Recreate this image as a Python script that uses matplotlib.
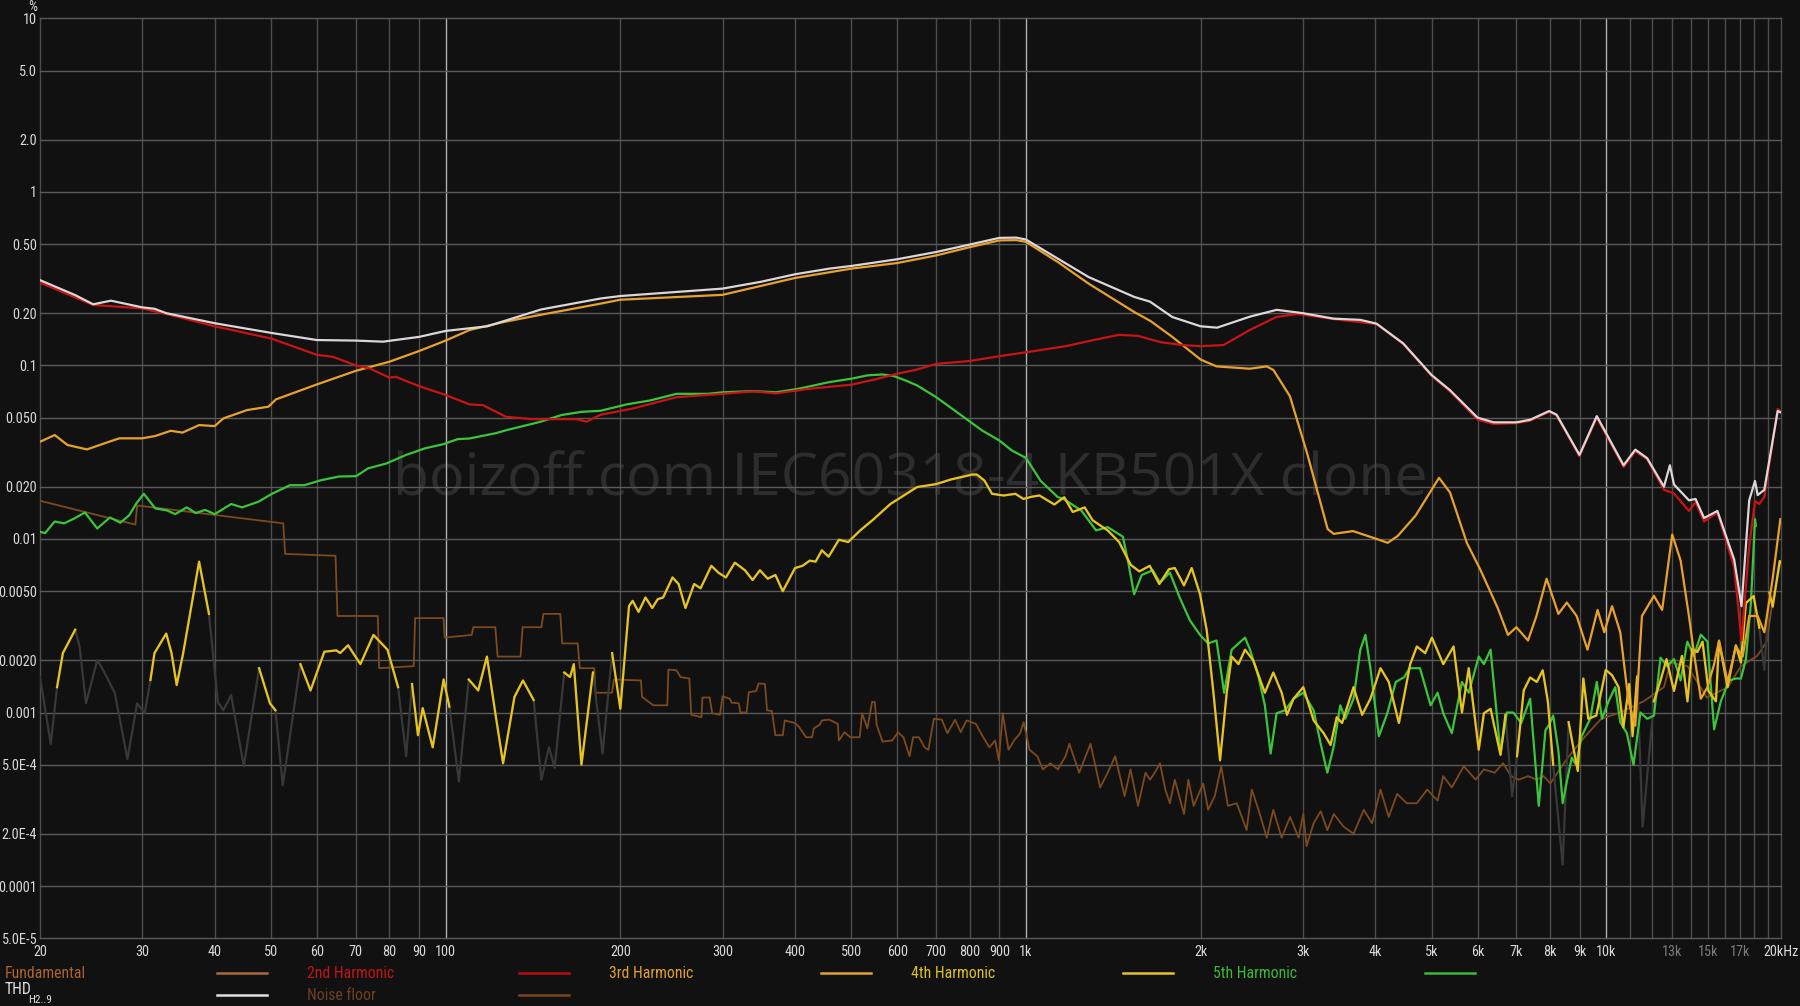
import numpy as np
import matplotlib.pyplot as plt
from matplotlib.lines import Line2D
from matplotlib import font_manager as fm

# ---- data: (frequency Hz, distortion %) ----
thd = np.array([
    (20, 0.31), (23.0, 0.254), (24.7, 0.225), (26.5, 0.236), (30, 0.216), (31.5, 0.212),
    (33, 0.200), (40, 0.175), (50, 0.154), (60, 0.140), (70, 0.139), (78, 0.137),
    (90, 0.146), (100, 0.158), (118, 0.168), (146, 0.21), (185, 0.243), (200, 0.251),
    (250, 0.265), (300, 0.277), (349, 0.303), (400, 0.335), (458, 0.361), (500, 0.374),
    (600, 0.409), (700, 0.45), (800, 0.497), (900, 0.543), (962, 0.545), (1000, 0.531),
    (1135, 0.412), (1282, 0.323), (1537, 0.248), (1636, 0.233), (1787, 0.19), (2000, 0.168),
    (2135, 0.165), (2432, 0.191), (2704, 0.209), (3000, 0.200), (3387, 0.186), (3768, 0.183),
    (4019, 0.174), (4466, 0.134), (5000, 0.088), (5378, 0.072), (6000, 0.050), (6394, 0.047),
    (7000, 0.047), (7390, 0.0486), (7970, 0.0546), (8210, 0.052), (8990, 0.0305), (9630, 0.051),
    (10710, 0.0266), (11220, 0.0327), (11760, 0.0292), (12570, 0.020), (12870, 0.0266),
    (13080, 0.0206), (13880, 0.0167), (14250, 0.017), (14740, 0.0132), (15540, 0.0145),
    (16610, 0.0076), (17100, 0.0041), (17630, 0.0167), (18040, 0.0216), (18230, 0.0179),
    (18720, 0.0192), (19740, 0.0546), (20000, 0.0535)])

h2 = np.array([
    (20, 0.30), (24.7, 0.223), (30, 0.213), (33, 0.198), (40, 0.168), (50, 0.143), (60, 0.115),
    (64, 0.112), (70, 0.100), (74, 0.096), (80, 0.085), (82, 0.086), (90, 0.076), (100, 0.0675),
    (110, 0.0596), (116, 0.059), (127, 0.0506), (141, 0.049), (154, 0.049), (168, 0.049),
    (175, 0.0474), (185, 0.052), (209, 0.0562), (250, 0.0656), (300, 0.0686), (339, 0.0708),
    (371, 0.069), (424, 0.0734), (500, 0.0774), (549, 0.083), (600, 0.0895), (650, 0.0948),
    (700, 0.102), (800, 0.106), (900, 0.113), (1000, 0.119), (1170, 0.129), (1321, 0.141),
    (1446, 0.15), (1560, 0.148), (1707, 0.136), (1860, 0.131), (2000, 0.129), (2190, 0.131),
    (2430, 0.16), (2700, 0.19), (2930, 0.198), (3000, 0.196), (3390, 0.185), (4020, 0.173),
    (4466, 0.133), (5000, 0.087), (5378, 0.071), (6000, 0.0487), (6394, 0.046), (7000, 0.0465),
    (7390, 0.048), (7970, 0.054), (8210, 0.0515), (8990, 0.030), (9630, 0.050), (10710, 0.026),
    (11220, 0.032), (11760, 0.0288), (12570, 0.0192), (13080, 0.0183), (13880, 0.0145),
    (14250, 0.0163), (14740, 0.0126), (15540, 0.0142), (16610, 0.0069), (17100, 0.0026),
    (17630, 0.0091), (18040, 0.0165), (18350, 0.0159), (18720, 0.0175), (19740, 0.056),
    (20000, 0.054)])

h3 = np.array([
    (20, 0.0363), (21.2, 0.0397), (22.3, 0.0348), (24.1, 0.0328), (26.3, 0.0363), (27.4, 0.038),
    (30, 0.038), (31.6, 0.0392), (33.6, 0.042), (35.2, 0.041), (37.6, 0.0453), (40, 0.0447),
    (41.4, 0.0495), (45.5, 0.0553), (49.5, 0.0578), (51, 0.0637), (60, 0.0777), (70, 0.093),
    (80, 0.105), (90, 0.121), (100, 0.139), (110, 0.16), (126, 0.178), (145, 0.195),
    (185, 0.227), (200, 0.239), (300, 0.255), (400, 0.319), (500, 0.361), (600, 0.389),
    (700, 0.43), (800, 0.48), (900, 0.525), (962, 0.527), (1000, 0.515), (1135, 0.394),
    (1282, 0.296), (1537, 0.203), (1640, 0.18), (1787, 0.146), (2000, 0.108), (2130, 0.0987),
    (2430, 0.0957), (2600, 0.0987), (2670, 0.094), (2850, 0.0664), (3050, 0.0313),
    (3310, 0.0114), (3390, 0.0107), (3660, 0.0111), (4020, 0.010), (4200, 0.0095),
    (4370, 0.0104), (4690, 0.0136), (5150, 0.0225), (5380, 0.0185), (5750, 0.0095),
    (6060, 0.0067), (6500, 0.0040), (6770, 0.0028), (7000, 0.0031), (7330, 0.0026),
    (7580, 0.0036), (7890, 0.0059), (8270, 0.0037), (8550, 0.0043), (8890, 0.0036),
    (9280, 0.0023), (9660, 0.0039), (9920, 0.0029), (10230, 0.0041), (10570, 0.0029),
    (10920, 0.00116), (11220, 0.00084), (11520, 0.0036), (12080, 0.0047), (12480, 0.0039),
    (12990, 0.0106), (13430, 0.0075), (13880, 0.0036), (14160, 0.0022), (14550, 0.0012),
    (14940, 0.0014), (15340, 0.0019), (15640, 0.0026), (16180, 0.0015), (16720, 0.0024),
    (17180, 0.0021), (17630, 0.0036), (18230, 0.0036), (18720, 0.0029), (19350, 0.0059),
    (19950, 0.013)])

h4 = np.array([
    (20, 0.0016), (20.87, 0.00066), (21.4, 0.0014), (21.9, 0.0022), (23.0, 0.0030), (23.4, 0.0024),
    (24.0, 0.00113), (25.1, 0.0020), (25.6, 0.0018), (26.9, 0.0013), (28.3, 0.00054),
    (29.4, 0.00113), (30.3, 0.00099), (31.0, 0.00154), (31.5, 0.0022), (33.0, 0.00285),
    (33.7, 0.0022), (34.4, 0.00144), (35.3, 0.0022), (37.6, 0.0074), (39.1, 0.0037),
    (40.5, 0.00115), (41.4, 0.00103), (42.7, 0.00126), (44.9, 0.00049), (47.7, 0.0018),
    (49.8, 0.00113), (50.9, 0.00103), (52.4, 0.00038), (56.2, 0.0019), (58.5, 0.00134),
    (61.8, 0.00224), (64.8, 0.00228), (65.8, 0.0022), (67.9, 0.00244), (71.3, 0.0019),
    (75.1, 0.0028), (79.4, 0.0023), (82.8, 0.0014), (85.5, 0.00056), (87.5, 0.00146),
    (89.6, 0.00074), (91.3, 0.00106), (95.0, 0.00063), (99.2, 0.00155), (101.5, 0.00108),
    (105.4, 0.0004), (109.6, 0.00155), (113.8, 0.00134), (117.8, 0.0021), (121.8, 0.00099),
    (125.6, 0.00051), (131.4, 0.00123), (135.9, 0.00153), (141.8, 0.00118), (146.2, 0.00041),
    (150.7, 0.00063), (154.1, 0.00048), (160.1, 0.0017), (163.8, 0.0016), (166.3, 0.0019),
    (171.4, 0.0005), (179.4, 0.0017), (186.4, 0.00058), (193.6, 0.0022), (200, 0.00105),
    (207, 0.0041), (210, 0.0044), (215, 0.0038), (221, 0.0046), (227, 0.0040), (232, 0.0045),
    (237, 0.0046), (246, 0.0060), (252, 0.0055), (259, 0.0040), (268, 0.0055), (275, 0.0052),
    (287, 0.0070), (295, 0.0064), (304, 0.0060), (315, 0.0073), (328, 0.0066), (338, 0.0058),
    (348, 0.0066), (359, 0.0059), (370, 0.0062), (381, 0.0050), (400, 0.0068), (412, 0.0070),
    (424, 0.0075), (434, 0.0074), (445, 0.0086), (457, 0.0079), (476, 0.0099), (494, 0.0096),
    (518, 0.0112), (545, 0.0129), (584, 0.0159), (649, 0.0199), (700, 0.0207), (742, 0.022),
    (808, 0.0235), (823, 0.0235), (848, 0.0217), (874, 0.0182), (915, 0.0178), (959, 0.0182),
    (990, 0.017), (1022, 0.0175), (1055, 0.0178), (1119, 0.0158), (1164, 0.0174),
    (1204, 0.0143), (1262, 0.0152), (1303, 0.0128), (1383, 0.0112), (1447, 0.0096),
    (1515, 0.0071), (1568, 0.0065), (1634, 0.0070), (1697, 0.0055), (1764, 0.0067),
    (1805, 0.0068), (1872, 0.0054), (1930, 0.0068), (1995, 0.0048), (2048, 0.0030),
    (2104, 0.0013), (2160, 0.00053), (2218, 0.0013), (2262, 0.0021), (2324, 0.0019),
    (2385, 0.0023), (2463, 0.0020), (2580, 0.0013), (2668, 0.0017), (2758, 0.0013),
    (2817, 0.00097), (2891, 0.0012), (3005, 0.0014), (3131, 0.0009), (3258, 0.00076),
    (3349, 0.00065), (3432, 0.00094), (3505, 0.00087), (3668, 0.0014), (3795, 0.00097),
    (3922, 0.0012), (4082, 0.0018), (4218, 0.0015), (4392, 0.00087), (4593, 0.0019),
    (4715, 0.0024), (4874, 0.0022), (5006, 0.0027), (5237, 0.0019), (5455, 0.0024),
    (5640, 0.0010), (5794, 0.0018), (6028, 0.00061), (6153, 0.00099), (6318, 0.00105),
    (6572, 0.00057), (6702, 0.00097), (6881, 0.00033), (7018, 0.00056), (7206, 0.00134),
    (7392, 0.00159), (7590, 0.0015), (7770, 0.00175), (7930, 0.00116), (8100, 0.0005),
    (8410, 0.000133), (8610, 0.00088), (8930, 0.00046), (9130, 0.00157), (9310, 0.00092),
    (9610, 0.00096), (9980, 0.00176), (10230, 0.00164), (10500, 0.0014), (10700, 0.00082),
    (10950, 0.00146), (11100, 0.00073), (11300, 0.00161), (11550, 0.00022), (12080, 0.00116),
    (12400, 0.00153), (12700, 0.00203), (13080, 0.00133), (13500, 0.00212), (13800, 0.00116),
    (14060, 0.00233), (14350, 0.00223), (14650, 0.00256), (15000, 0.00133), (15450, 0.00116),
    (15640, 0.00256), (16180, 0.0014), (16720, 0.00244), (17060, 0.00194), (17400, 0.00427),
    (17940, 0.00469), (18350, 0.00308), (18720, 0.00176), (19100, 0.00491), (19350, 0.00407),
    (19900, 0.00746), (20000, 0.0073)])

# frequency spans where the 4th harmonic trace is drawn greyed out
h4_grey = [(20, 21.2), (23.3, 24.6), (25.5, 30.5), (40.2, 42.0), (44.0, 46.0), (51.5, 53.5),
           (85.0, 86.5), (104.5, 107.0), (145.0, 155.0), (185.0, 188.0), (6800, 6950),
           (8300, 8500), (11400, 11700), (18600, 18800)]

h5 = np.array([
    (20, 0.011), (20.4, 0.0108), (21.2, 0.0126), (22.0, 0.0123), (22.9, 0.0131), (23.9, 0.0142),
    (25.1, 0.0115), (26.4, 0.0133), (27.5, 0.0124), (28.5, 0.0137), (29.3, 0.016), (30.2, 0.0182),
    (31.6, 0.015), (33.1, 0.0146), (34.2, 0.0139), (35.8, 0.0152), (37.1, 0.0141), (38.5, 0.0147),
    (40.0, 0.0139), (42.7, 0.0159), (44.6, 0.0152), (47.6, 0.0164), (50.2, 0.0182),
    (53.9, 0.0204), (57.1, 0.0204), (61.0, 0.0218), (65.5, 0.0229), (70.1, 0.023),
    (73.5, 0.0255), (79.0, 0.0272), (85.5, 0.0305), (92.2, 0.0333), (99.2, 0.0352),
    (104.9, 0.0376), (109.8, 0.0379), (121.7, 0.0406), (127.5, 0.0424), (145.9, 0.0474),
    (158.4, 0.0518), (171.5, 0.054), (185, 0.0548), (205, 0.0596), (225, 0.0628), (250, 0.0686),
    (283, 0.0686), (300, 0.070), (339, 0.0711), (371, 0.070), (406, 0.0734), (458, 0.0801),
    (500, 0.0838), (533, 0.0876), (566, 0.0887), (592, 0.0868), (620, 0.0819), (649, 0.0767),
    (700, 0.0657), (767, 0.0526), (840, 0.0422), (900, 0.0369), (946, 0.0323), (1000, 0.0293),
    (1060, 0.0216), (1135, 0.0174), (1158, 0.0171), (1245, 0.0146), (1321, 0.0112),
    (1383, 0.0117), (1469, 0.0103), (1502, 0.0072), (1536, 0.0048), (1583, 0.0062),
    (1654, 0.0066), (1702, 0.0056), (1770, 0.0064), (1840, 0.0046), (1916, 0.0034),
    (1995, 0.0028), (2060, 0.0025), (2130, 0.0026), (2195, 0.0013), (2262, 0.0023),
    (2324, 0.0025), (2385, 0.0027), (2433, 0.0023), (2516, 0.0016), (2580, 0.0011),
    (2640, 0.00058), (2703, 0.00099), (2795, 0.00103), (2891, 0.0012), (3005, 0.0013),
    (3131, 0.00103), (3220, 0.00066), (3306, 0.00045), (3392, 0.00064), (3480, 0.0011),
    (3550, 0.00092), (3668, 0.0012), (3768, 0.0023), (3845, 0.0028), (3922, 0.0018),
    (4056, 0.00073), (4194, 0.00099), (4338, 0.0015), (4486, 0.0016), (4580, 0.0018),
    (4775, 0.0018), (4980, 0.0011), (5120, 0.0013), (5237, 0.00099), (5418, 0.00076),
    (5640, 0.0015), (5794, 0.0013), (6028, 0.0021), (6153, 0.0019), (6318, 0.0023),
    (6572, 0.00058), (6740, 0.001), (6916, 0.001), (7135, 0.00087), (7392, 0.0012),
    (7650, 0.00029), (7855, 0.00079), (7970, 0.00085), (8100, 0.00096), (8270, 0.0006),
    (8410, 0.0003), (8550, 0.0004), (8720, 0.00055), (8870, 0.0005), (9070, 0.00073),
    (9380, 0.00092), (9630, 0.0015), (9830, 0.00092), (10090, 0.00116), (10360, 0.0014),
    (10570, 0.00088), (10850, 0.00076), (11140, 0.0005), (11450, 0.001), (11760, 0.00092),
    (12080, 0.00096), (12400, 0.00207), (12730, 0.00185), (13080, 0.00203), (13430, 0.00153),
    (13790, 0.00256), (14160, 0.00212), (14550, 0.00281), (14940, 0.00256), (15340, 0.0008),
    (15750, 0.00116), (16280, 0.00153), (16720, 0.00157), (17060, 0.00157), (17400, 0.00203),
    (17750, 0.00427), (18040, 0.013), (18100, 0.0119)])

noise = np.array([
    (20, 0.0166), (29.2, 0.0121), (29.4, 0.0156), (52.5, 0.0123), (52.9, 0.0082), (64.6, 0.0080),
    (65.1, 0.0036), (76.4, 0.0036), (76.8, 0.0018), (88.1, 0.00185), (88.6, 0.0035),
    (99.2, 0.0035), (99.6, 0.0027), (110.9, 0.0028), (111.6, 0.0031), (121.8, 0.0031),
    (122.9, 0.0021), (134.6, 0.0021), (135.7, 0.0031), (146.2, 0.0031), (147.4, 0.0037),
    (157.6, 0.0037), (158.8, 0.0025), (168.9, 0.0025), (170.3, 0.0018), (180.3, 0.0018),
    (181.3, 0.0013), (193.5, 0.0013), (195, 0.00155), (217, 0.00153), (218, 0.00123),
    (228, 0.0011), (241, 0.0011), (242, 0.00177), (250, 0.00175), (254, 0.0016), (263, 0.00157),
    (265, 0.00097), (276, 0.00094), (277, 0.00122), (285, 0.00122), (288, 0.00099),
    (297, 0.00097), (300, 0.00124), (309, 0.0012), (311, 0.00114), (320, 0.00113), (322, 0.0010),
    (330, 0.0010), (333, 0.00131), (343, 0.00133), (346, 0.00147), (355, 0.00146),
    (358, 0.00103), (365, 0.00102), (370, 0.00074), (381, 0.00074), (384, 0.0009),
    (400, 0.00087), (406, 0.00083), (418, 0.00072), (428, 0.00072), (431, 0.00081),
    (441, 0.00085), (445, 0.0009), (458, 0.00091), (474, 0.00086), (476, 0.00069),
    (487, 0.00077), (498, 0.00072), (517, 0.00072), (522, 0.00099), (533, 0.00081),
    (543, 0.00115), (549, 0.00115), (553, 0.00085), (566, 0.00068), (588, 0.00069),
    (602, 0.00077), (615, 0.00072), (630, 0.00056), (639, 0.00072), (654, 0.00072),
    (669, 0.00063), (679, 0.00061), (694, 0.00092), (716, 0.00091), (732, 0.00076),
    (755, 0.00091), (772, 0.00077), (790, 0.0009), (820, 0.00086), (840, 0.00074),
    (865, 0.00063), (885, 0.00069), (898, 0.00053), (912, 0.00099), (933, 0.00061),
    (954, 0.00069), (977, 0.00076), (991, 0.00088), (1014, 0.00061), (1046, 0.00056),
    (1069, 0.00047), (1102, 0.00051), (1135, 0.00047), (1170, 0.00056), (1188, 0.00066),
    (1235, 0.00045), (1292, 0.00066), (1342, 0.00037), (1383, 0.00045), (1425, 0.00056),
    (1479, 0.00033), (1514, 0.00047), (1560, 0.00029), (1607, 0.00045), (1636, 0.00041),
    (1667, 0.00045), (1702, 0.00051), (1738, 0.00036), (1770, 0.0003), (1805, 0.00041),
    (1872, 0.00026), (1905, 0.00041), (1945, 0.00029), (2020, 0.00039), (2060, 0.000275),
    (2115, 0.00033), (2170, 0.00049), (2228, 0.00029), (2308, 0.0003), (2400, 0.00021),
    (2450, 0.00036), (2516, 0.000275), (2600, 0.00019), (2668, 0.000275), (2758, 0.00019),
    (2852, 0.00025), (2950, 0.00019), (3005, 0.00026), (3045, 0.00017), (3131, 0.00023),
    (3220, 0.00027), (3306, 0.00021), (3392, 0.00026), (3526, 0.00022), (3668, 0.0002),
    (3820, 0.000275), (3948, 0.00023), (4082, 0.00036), (4218, 0.00025), (4360, 0.00034),
    (4530, 0.0003), (4715, 0.0003), (4915, 0.00036), (5120, 0.00031), (5237, 0.00043),
    (5418, 0.00037), (5680, 0.00049), (5955, 0.00041), (6153, 0.00047), (6420, 0.00045),
    (6640, 0.00051), (6855, 0.00043), (7065, 0.00041), (7330, 0.00043), (7590, 0.00041),
    (7800, 0.00043), (8006, 0.00039), (8550, 0.00054), (9200, 0.00073), (9800, 0.00092),
    (10570, 0.001), (11600, 0.00116), (12570, 0.0014), (12900, 0.00194), (13800, 0.00185),
    (14900, 0.00122), (16200, 0.0014), (17060, 0.00185), (18200, 0.00212), (18900, 0.00256),
    (19400, 0.00469), (20000, 0.00746)])

# axis ticks
x_ticks = [20, 30, 40, 50, 60, 70, 80, 90, 100, 200, 300, 400, 500, 600, 700, 800, 900,
           1000, 2000, 3000, 4000, 5000, 6000, 7000, 8000, 9000, 10000,
           11000, 12000, 13000, 14000, 15000, 16000, 17000, 18000, 19000, 20000]
x_labels = ['20', '30', '40', '50', '60', '70', '80', '90', '100', '200', '300', '400', '500',
            '600', '700', '800', '900', '1k', '2k', '3k', '4k', '5k', '6k', '7k', '8k', '9k',
            '10k', '', '', '13k', '', '15k', '', '17k', '', '', '20kHz']
y_ticks = [5e-5, 1e-4, 2e-4, 5e-4, 1e-3, 2e-3, 5e-3, 0.01, 0.02, 0.05, 0.1, 0.2, 0.5, 1, 2, 5, 10]
y_labels = ['5.0E-5', '0.0001', '2.0E-4', '5.0E-4', '0.001', '0.0020', '0.0050', '0.01',
            '0.020', '0.050', '0.1', '0.20', '0.50', '1', '2.0', '5.0', '10']

BG = '#111111'

# pick a condensed face for the small labels if one is installed, else a plain narrow-ish sans
label_font = None
for entry in fm.fontManager.ttflist:
    if entry.stretch in ('condensed', 'semi-condensed') and entry.style == 'normal' \
            and entry.weight in (400, 'normal', 'regular') \
            and entry.name in ('Liberation Sans Narrow', 'Noto Sans', 'Open Sans', 'Roboto',
                               'Roboto Condensed', 'Inter'):
        label_font = fm.FontProperties(fname=entry.fname)
        break
if label_font is None:
    label_font = fm.FontProperties(family=['Roboto', 'DejaVu Sans'])
    LABEL_SIZE = 8.3
else:
    LABEL_SIZE = 10.3
label_font.set_size(LABEL_SIZE)

fig = plt.figure(figsize=(18, 10.06), dpi=100, facecolor=BG)
ax = fig.add_axes([40 / 1800, 67.7 / 1006, 1741 / 1800, 920 / 1006])
ax.set_facecolor(BG)
ax.set_xscale('log')
ax.set_yscale('log')
ax.set_xlim(20, 20000)
ax.set_ylim(5e-5, 10)

ax.set_xticks(x_ticks)
ax.set_xticklabels(x_labels)
ax.set_yticks(y_ticks)
ax.set_yticklabels(y_labels)
ax.minorticks_off()
ax.tick_params(axis='both', length=0, colors='#d8d8d8')
ax.tick_params(axis='x', pad=5)
ax.tick_params(axis='y', pad=2)
for lab in ax.get_xticklabels() + ax.get_yticklabels():
    lab.set_fontproperties(label_font)
for lab in ax.get_xticklabels():
    if lab.get_text() in ('13k', '15k', '17k'):
        lab.set_color('#7a7a7a')

ax.grid(True, color='#4c4c4c', linewidth=1.0)
for f, gl in zip(x_ticks, ax.get_xgridlines()):
    gl.set_clip_on(False)
    if f in (100, 1000, 10000):
        gl.set_color('#b0b0b0')
for gl in ax.get_ygridlines():
    gl.set_clip_on(False)
    gl.set_color('#5a5a5a')
for s in ax.spines.values():
    s.set_visible(False)

# watermark
ax.text(0.5056, 0.523, 'boizoff.com IEC60318-4 KB501X clone', transform=fig.transFigure,
        ha='center', va='center', fontsize=42.5, color='#2d2d2d',
        family=['Open Sans', 'DejaVu Sans'], zorder=1)

# traces
ax.plot(noise[:, 0], noise[:, 1], color='#7c4a1e', lw=1.3, zorder=2)
ax.plot(h4[:, 0], h4[:, 1], color='#383838', lw=1.6, zorder=2.5)
h4_col = h4[:, 1].copy()
for lo, hi in h4_grey:
    h4_col[(h4[:, 0] >= lo) & (h4[:, 0] <= hi)] = np.nan
ax.plot(h4[:, 0], h4_col, color='#e8c41e', lw=1.6, zorder=3.2)
ax.plot(h5[:, 0], h5[:, 1], color='#3cc43c', lw=1.6, zorder=3.0)
ax.plot(h3[:, 0], h3[:, 1], color='#e8a22c', lw=1.6, zorder=3.4)
ax.plot(h2[:, 0], h2[:, 1], color='#c81414', lw=1.6, zorder=3.6)
ax.plot(thd[:, 0], thd[:, 1], color='#dcd6d8', lw=1.6, zorder=3.8)

# unit label
fig.text(33 / 1800, 1 - 7 / 1006, '%', ha='center', va='center', color='#d8d8d8',
         fontproperties=label_font)

# legend, drawn by hand in two rows like the original
row1 = 1 - 973 / 1006
row2 = 1 - 995 / 1006
leg_font = label_font.copy()
leg_font.set_size(LABEL_SIZE + 1.0)
sub_font = label_font.copy()
sub_font.set_size(LABEL_SIZE - 2.3)
entries = [
    ('Fundamental', '#a9642f', '#a8683e', 0, row1),
    ('2nd Harmonic', '#c01418', '#b81010', 1, row1),
    ('3rd Harmonic', '#e0a030', '#e0a030', 2, row1),
    ('4th Harmonic', '#dcc022', '#e0c428', 3, row1),
    ('5th Harmonic', '#3cb83c', '#3cb83c', 4, row1),
    ('Noise floor', '#6e4020', '#7a4520', 1, row2),
]
for name, tcol, lcol, col, yy in entries:
    x0 = 5 + 302 * col
    fig.text(x0 / 1800, yy, name, ha='left', va='center', color=tcol, fontproperties=leg_font)
    fig.add_artist(Line2D([(x0 + 212) / 1800, (x0 + 262) / 1800], [yy, yy],
                          color=lcol, lw=1.8, transform=fig.transFigure))
fig.text(5 / 1800, 1 - 990 / 1006, 'THD', ha='left', va='center', color='#e0e0e0',
         fontproperties=leg_font)
fig.text(28 / 1800, 1 - 1000 / 1006, 'H2..9', ha='left', va='center', color='#e0e0e0',
         fontproperties=sub_font)
fig.add_artist(Line2D([217 / 1800, 267 / 1800], [row2, row2], color='#e0e0e0', lw=1.8,
                      transform=fig.transFigure))

fig.savefig('out.png', dpi=100, facecolor=BG)
plt.close(fig)
